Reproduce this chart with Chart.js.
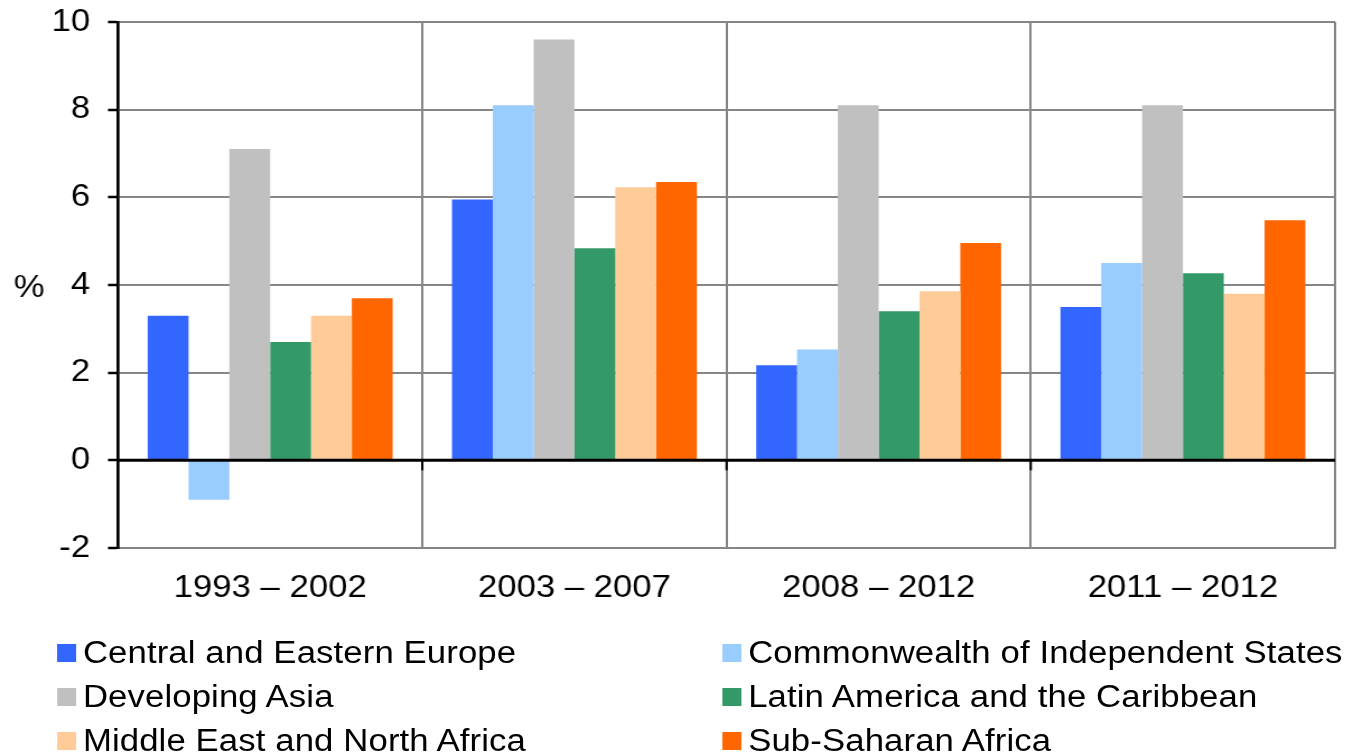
<!DOCTYPE html>
<html>
<head>
<meta charset="utf-8">
<script src="https://cdn.jsdelivr.net/npm/chart.js@4.4.1/dist/chart.umd.min.js"></script>
<style>
  html, body { margin: 0; padding: 0; background: #fff; overflow: hidden; }
  /* the whole figure is drawn slightly narrow and widened horizontally */
  #stage { position: absolute; left: 0; top: 0; width: 1201px; height: 755px;
           transform: scaleX(1.12); transform-origin: 0 0; }
  #chart { position: absolute; left: 0; top: 0; width: 1201px; height: 755px; }
  .legend-text { position: absolute; height: 30px; line-height: 30px; white-space: nowrap;
                 font-family: "Liberation Sans", Arial, sans-serif; font-size: 31px;
                 letter-spacing: 0.1px; color: #000; }
  .legend-box { position: absolute; width: 17px; height: 18px; }
</style>
</head>
<body>
<div id="stage">
  <canvas id="chart" width="1201" height="755"></canvas>
  <div id="legend"></div>
</div>
<script>
// Periods on the category axis
const categories = ['1993 – 2002', '2003 – 2007', '2008 – 2012', '2011 – 2012'];

// Region names, in legend order
const regionNames = [
  'Central and Eastern Europe',
  'Commonwealth of Independent States',
  'Developing Asia',
  'Latin America and the Caribbean',
  'Middle East and North Africa',
  'Sub-Saharan Africa'
];

// Average growth, %, one value per period
const centralEasternEurope = [3.3, 5.95, 2.17, 3.5];
const commonwealthIndependent = [-0.9, 8.1, 2.53, 4.5];
const developingAsia = [7.1, 9.6, 8.1, 8.1];
const latinAmericaCaribbean = [2.7, 4.84, 3.4, 4.27];
const middleEastNorthAfrica = [3.3, 6.23, 3.86, 3.8];
const subSaharanAfrica = [3.7, 6.35, 4.96, 5.48];

// Value axis
const yMin = -2;
const yMax = 10;
const yStep = 2;
const yAxisTitle = '%';

const regionColors = ['#3366FF', '#99CCFF', '#C0C0C0', '#339966', '#FFCC99', '#FF6600'];
const seriesValues = [
  centralEasternEurope, commonwealthIndependent, developingAsia,
  latinAmericaCaribbean, middleEastNorthAfrica, subSaharanAfrica
];

const FONT = '"Liberation Sans", Arial, sans-serif';
const GRID = '#868686';

// Zero line drawn over the bar bases, with small ticks at period boundaries,
// plus the "%" axis caption.
const axisExtras = {
  id: 'axisExtras',
  afterDatasetsDraw(chart) {
    const { ctx, chartArea, scales: { x, y } } = chart;
    const y0 = y.getPixelForValue(0);
    ctx.save();
    ctx.strokeStyle = '#000';
    ctx.lineWidth = 3;
    ctx.beginPath();
    ctx.moveTo(chartArea.left, y0);
    ctx.lineTo(chartArea.right, y0);
    ctx.stroke();
    ctx.lineWidth = 2;
    for (let i = 1; i < categories.length; i++) {
      const bx = (x.getPixelForValue(i - 1) + x.getPixelForValue(i)) / 2;
      ctx.beginPath();
      ctx.moveTo(bx, y0);
      ctx.lineTo(bx, y0 + 10);
      ctx.stroke();
    }
    ctx.restore();
  },
  afterDraw(chart) {
    const { ctx } = chart;
    ctx.save();
    ctx.fillStyle = '#000';
    ctx.font = '31px ' + FONT;
    ctx.textAlign = 'center';
    ctx.textBaseline = 'middle';
    ctx.fillText(yAxisTitle, 26, 288);
    ctx.restore();
  }
};

const chart = new Chart(document.getElementById('chart'), {
  type: 'bar',
  data: {
    labels: categories,
    datasets: regionNames.map((name, i) => ({
      label: name,
      data: seriesValues[i],
      backgroundColor: regionColors[i],
      borderWidth: 0,
      categoryPercentage: 0.805,
      barPercentage: 1.0
    }))
  },
  options: {
    responsive: false,
    devicePixelRatio: 1,
    animation: false,
    layout: { padding: { left: 0, top: 22, right: 9, bottom: 0 } },
    plugins: {
      legend: { display: false },
      tooltip: { enabled: false }
    },
    scales: {
      x: {
        grid: { offset: true, color: GRID, lineWidth: 2, drawTicks: false },
        border: { color: GRID, width: 2 },
        ticks: { color: '#000', font: { family: FONT, size: 31 }, padding: 22 },
        afterFit(scale) { scale.height = 755 - 548; }
      },
      y: {
        min: yMin,
        max: yMax,
        ticks: { stepSize: yStep, color: '#000', font: { family: FONT, size: 31 }, padding: 16 },
        grid: {
          color: ctx => ctx.tick && ctx.tick.value === 0 ? '#000' : GRID,
          lineWidth: 2,
          tickColor: '#000',
          tickWidth: 2.5,
          tickLength: 9
        },
        border: { color: '#000', width: 2.7 },
        afterFit(scale) {
          scale.width = 105.4;
          scale.paddingTop = 0;
          scale.paddingBottom = 0;
        }
      }
    }
  },
  plugins: [axisExtras]
});

// Two-column legend below the plot
const legend = document.getElementById('legend');
const colBox = [51, 645];
const colText = [74, 668];
const rowBoxTop = [644, 688, 732];
chart.data.datasets.forEach((ds, i) => {
  const col = i % 2, row = Math.floor(i / 2);
  const box = document.createElement('div');
  box.className = 'legend-box';
  box.style.left = colBox[col] + 'px';
  box.style.top = rowBoxTop[row] + 'px';
  box.style.background = ds.backgroundColor;
  legend.appendChild(box);
  const txt = document.createElement('div');
  txt.className = 'legend-text';
  txt.style.left = colText[col] + 'px';
  txt.style.top = (rowBoxTop[row] - 6) + 'px';
  txt.textContent = ds.label;
  legend.appendChild(txt);
});
</script>
</body>
</html>
